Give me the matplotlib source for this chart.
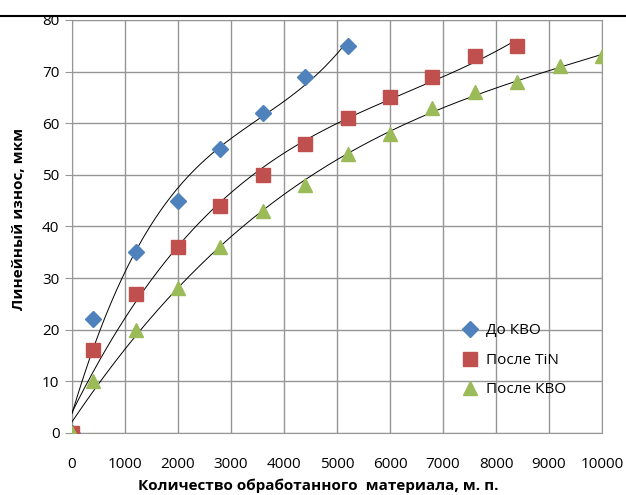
import numpy as np
import matplotlib
matplotlib.use('Agg')
from matplotlib import pyplot as plt
from matplotlib.lines import Line2D

plt.rcParams['font.family'] = ['Open Sans', 'DejaVu Sans']

# данные: количество материала и износ
x_do = [0, 400, 1200, 2000, 2800, 3600, 4400, 5200]
y_do = [0, 22, 35, 45, 55, 62, 69, 75]

x_tin = [0, 400, 1200, 2000, 2800, 3600, 4400, 5200, 6000, 6800, 7600, 8400]
y_tin = [0, 16, 27, 36, 44, 50, 56, 61, 65, 69, 73, 75]

x_kvo = [0, 400, 1200, 2000, 2800, 3600, 4400, 5200, 6000, 6800, 7600, 8400, 9200, 10000]
y_kvo = [0, 10, 20, 28, 36, 43, 48, 54, 58, 63, 66, 68, 71, 73]

labels = ['До КВО', 'После TiN', 'После КВО']
colors = ['#4F81BD', '#C0504D', '#9BBB59']
markers = ['D', 's', '^']
sizes = [8, 10, 10.5]

fig = plt.figure(figsize=(6.26, 4.95), dpi=100)
ax = fig.add_axes([72 / 626, 62 / 495, 530 / 626, 413 / 495])

series = [(x_do, y_do), (x_tin, y_tin), (x_kvo, y_kvo)]
# полиномиальные линии тренда
for (xs, ys) in series:
    coef = np.polyfit(xs, ys, 3)
    xx = np.linspace(0, max(xs), 200)
    ax.plot(xx, np.polyval(coef, xx), c='black', lw=0.7, zorder=3)

for (xs, ys), lab, col, m, s in zip(series, labels, colors, markers, sizes):
    ax.plot(xs, ys, ls='none', marker=m, ms=s, color=col, label=lab, zorder=4)

ax.set_xlim(0, 10000)
ax.set_ylim(0, 80)
ax.set_xticks(range(0, 10001, 1000))
ax.set_yticks(range(0, 81, 10))
ax.grid(True, color='#969696', lw=1)
ax.set_axisbelow(True)
for sp in ax.spines.values():
    sp.set_color('#969696')
ax.tick_params(axis='y', length=5, color='#969696', labelsize=11, pad=4)
ax.tick_params(axis='x', length=0, labelsize=11, pad=17)

ax.legend(loc='upper left', bbox_to_anchor=(0.71, 0.28), frameon=False,
          fontsize=11, handletextpad=0.1, labelspacing=0.95, borderaxespad=0)

fig.text(19 / 626, 1 - 219 / 495, 'Линейный износ, мкм', rotation=90,
         fontsize=11, fontweight='bold', ha='center', va='center')
fig.text(318 / 626, 1 - 486 / 495, 'Количество обработанного  материала, м. п.',
         fontsize=11, fontweight='bold', ha='center', va='center')

# линия сверху (край документа)
fig.add_artist(Line2D([0, 1], [1 - 16 / 495, 1 - 16 / 495], color='black', lw=1.5))

fig.savefig('out.png', dpi=100)
